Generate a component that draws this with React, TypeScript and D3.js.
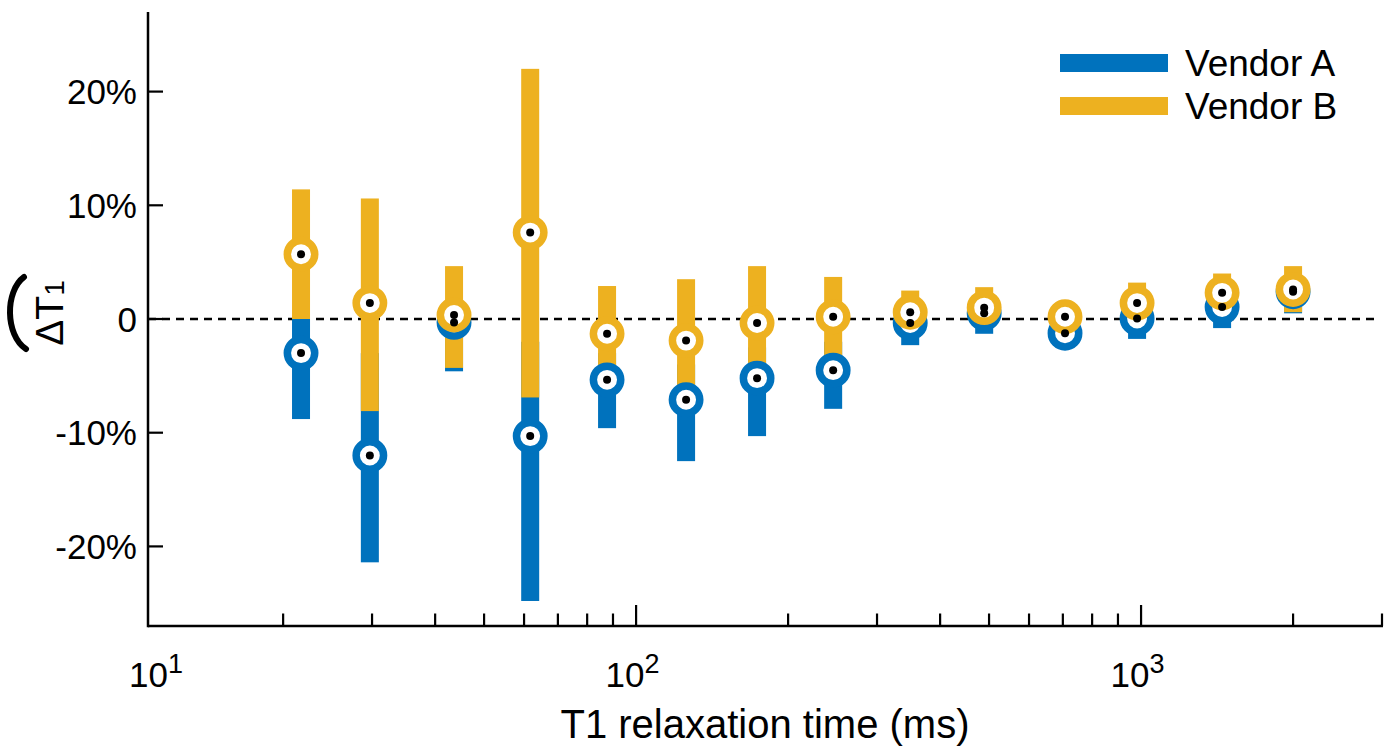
import React from "react";
import { scaleLog, scaleLinear } from "d3";

const blue = "#0072BD";
const orange = "#EDB120";
const font = "'Liberation Sans', Arial, Helvetica, sans-serif";

// T1 phantom spheres (ms)
const t1 = [21.7, 29.7, 43.6, 61.7, 87.6, 125.6, 173.6, 245.6, 349, 489, 707, 982, 1447, 2000];

// Vendor A: median and range (%)
const aMid = [-3.0, -12.0, -0.3, -10.3, -5.35, -7.1, -5.2, -4.5, -0.35, 0.5, -1.25, 0.05, 1.05, 2.4];
const aLow = [-8.8, -21.4, -4.6, -24.8, -9.6, -12.5, -10.3, -7.9, -2.3, -1.3, -2.2, -1.75, -0.8, 0.5];
const aHigh = [0.0, -3.0, 1.0, -2.0, -3.0, -4.0, -2.5, -2.0, 0.5, 0.8, 0.0, 0.8, 1.8, 2.5];

// Vendor B: median and range (%)
const bMid = [5.7, 1.4, 0.35, 7.6, -1.3, -1.9, -0.35, 0.2, 0.6, 1.0, 0.2, 1.4, 2.3, 2.6];
const bLow = [0.0, -8.1, -4.3, -6.9, -4.5, -6.0, -4.0, -3.2, -1.0, -0.3, -0.8, 0.3, 1.2, 0.6];
const bHigh = [11.4, 10.6, 4.65, 22.0, 2.9, 3.5, 4.65, 3.7, 2.5, 2.8, 1.5, 3.2, 4.0, 4.65];

const yTicks = [-20, -10, 0, 10, 20];
const yTickLabels = ["-20%", "-10%", "0", "10%", "20%"];
const minorTicks = [20, 30, 40, 50, 60, 70, 80, 90, 200, 300, 400, 500, 600, 700, 800, 900, 2000, 3000];
const majorTicks = [100, 1000];
const decadeLabels = [10, 100, 1000];
const decadeExp = ["1", "2", "3"];
const legendNames = ["Vendor A", "Vendor B"];

const W = 1393;
const H = 748;

const x = scaleLog().domain([10.8, 3000]).range([148, 1382]);
const y = scaleLinear().domain([-27, 27]).range([626, 12]);

const barW = 18;
const ringR = 13.7;

function App() {
  const series = [
    { color: blue, mid: aMid, low: aLow, high: aHigh },
    { color: orange, mid: bMid, low: bLow, high: bHigh },
  ];
  const x0 = x.range()[0];
  const x1 = x.range()[1];
  const yb = y.range()[0];
  const yt = y.range()[1];

  return (
    <svg width={W} height={H} style={{ position: "absolute", left: 0, top: 0, background: "#fff" }} fontFamily={font}>
      {/* zero line */}
      <line x1={x0} x2={x1 - 2} y1={y(0)} y2={y(0)} stroke="#000" strokeWidth={2.5} strokeDasharray="8 6" />

      {/* range bars */}
      {series.map((s, si) =>
        t1.map((t, i) => (
          <rect key={`bar${si}-${i}`} x={x(t) - barW / 2} width={barW}
            y={y(s.high[i])} height={y(s.low[i]) - y(s.high[i])} fill={s.color} />
        ))
      )}

      {/* median rings */}
      {series.map((s, si) =>
        t1.map((t, i) => (
          <circle key={`ring${si}-${i}`} cx={x(t)} cy={y(s.mid[i])} r={ringR}
            fill="#fff" stroke={s.color} strokeWidth={7.5} />
        ))
      )}

      {/* median dots */}
      {series.map((s, si) =>
        t1.map((t, i) => (
          <circle key={`dot${si}-${i}`} cx={x(t)} cy={y(s.mid[i])} r={4} fill="#000" />
        ))
      )}

      {/* axes */}
      <line x1={x0} x2={x0} y1={yt} y2={yb + 1.25} stroke="#000" strokeWidth={2.5} />
      <line x1={x0} x2={x1 + 1} y1={yb} y2={yb} stroke="#000" strokeWidth={2.5} />

      {yTicks.map((v, i) => (
        <g key={`yt${v}`}>
          <line x1={x0} x2={x0 + 15} y1={y(v)} y2={y(v)} stroke="#000" strokeWidth={2.2} />
          <text x={x0 - 11} y={y(v)} dy="0.36em" textAnchor="end" fontSize={35} fill="#000">
            {yTickLabels[i]}
          </text>
        </g>
      ))}

      {minorTicks.map((v) => (
        <line key={`mt${v}`} x1={x(v)} x2={x(v)} y1={yb} y2={yb - 12.5} stroke="#000" strokeWidth={2.2} />
      ))}
      {majorTicks.map((v) => (
        <line key={`Mt${v}`} x1={x(v)} x2={x(v)} y1={yb} y2={yb - 21} stroke="#000" strokeWidth={2.2} />
      ))}

      {decadeLabels.map((v, i) => {
        const cx = v < x.domain()[0] ? x0 + 8 : x(v) - 3.5;
        return (
          <text key={`dl${v}`} x={cx} y={687} textAnchor="middle" fontSize={35} fill="#000">
            10
            <tspan fontSize={27} dy={-14}>{decadeExp[i]}</tspan>
          </text>
        );
      })}

      {/* x title */}
      <text x={(x0 + x1) / 2} y={738} textAnchor="middle" fontSize={40} fill="#000">
        T1 relaxation time (ms)
      </text>

      {/* y title: widetilde Delta T1 */}
      <g transform="translate(63,313) rotate(-90)">
        <text x={0} y={0} textAnchor="middle" fontSize={39} fill="#000">
          ΔT<tspan fontSize={28} dy={1}>1</tspan>
        </text>
        <path d="M -36,-37 C -22,-58 22,-58 36,-39" fill="none" stroke="#000" strokeWidth={6} strokeLinecap="round" />
      </g>

      {/* legend */}
      {legendNames.map((name, i) => (
        <g key={name} transform={`translate(0, ${63 + i * 43})`}>
          <rect x={1060} y={-9} width={108} height={18} fill={series[i].color} />
          <text x={1185} y={0} dy="0.36em" fontSize={37} fill="#000">{name}</text>
        </g>
      ))}
    </svg>
  );
}

export default App;
